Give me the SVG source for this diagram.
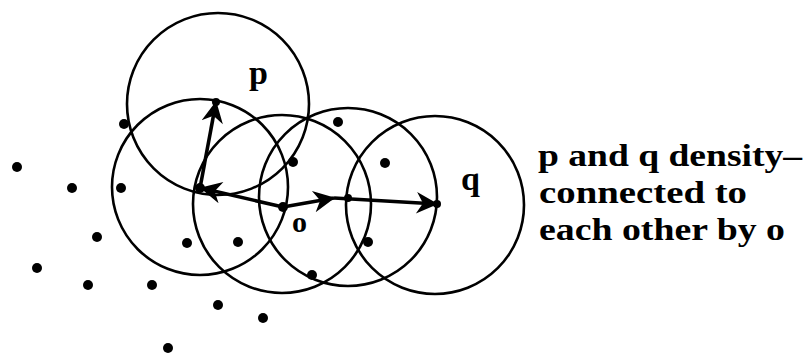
<svg xmlns="http://www.w3.org/2000/svg" width="806" height="356" viewBox="0 0 806 356">
<style>
.c{fill:none;stroke:#000;stroke-width:2.6}
.d{fill:#000}
.a{stroke:#000;stroke-width:3.6;fill:none}
.t{font-family:"Liberation Serif","DejaVu Serif",serif;fill:#000}
</style>
<defs>
<marker id="ah" viewBox="0 0 10 10" refX="9.5" refY="5" markerWidth="7.5" markerHeight="6" orient="auto" markerUnits="strokeWidth">
<path d="M0,0 L10,5 L0,10 L3,5 z" fill="#000"/>
</marker>
</defs>
<rect width="806" height="356" fill="#fff"/>
<g id="circles">
<circle id="circle-p" class="c" cx="218" cy="104" r="91"/>
<circle id="circle-a" class="c" cx="200" cy="187" r="88"/>
<circle id="circle-o" class="c" cx="282" cy="204" r="89"/>
<circle id="circle-b" class="c" cx="348" cy="197" r="89"/>
<circle id="circle-q" class="c" cx="435" cy="205" r="89"/>
</g>
<g id="points">
<circle class="d" cx="124" cy="124" r="5"/>
<circle class="d" cx="338" cy="122" r="5"/>
<circle class="d" cx="293" cy="162" r="5"/>
<circle class="d" cx="385" cy="163" r="5"/>
<circle class="d" cx="17" cy="167" r="5"/>
<circle class="d" cx="72" cy="188" r="5"/>
<circle class="d" cx="121" cy="188" r="5"/>
<circle class="d" cx="97" cy="237" r="5"/>
<circle class="d" cx="187" cy="243" r="5"/>
<circle class="d" cx="238" cy="242" r="5"/>
<circle class="d" cx="368" cy="242" r="5"/>
<circle class="d" cx="312" cy="275" r="5"/>
<circle class="d" cx="37" cy="268" r="5"/>
<circle class="d" cx="88" cy="285" r="5"/>
<circle class="d" cx="152" cy="285" r="5"/>
<circle class="d" cx="218" cy="305" r="5"/>
<circle class="d" cx="263" cy="318" r="5"/>
<circle class="d" cx="168" cy="348" r="5"/>
</g>
<g id="node-p">
<circle class="d" cx="216" cy="102" r="4"/>
<text class="t" x="249" y="84" font-size="34" font-weight="bold">p</text>
</g>
<g id="node-a">
<circle class="d" cx="200" cy="188" r="5"/>
</g>
<g id="node-o">
<circle class="d" cx="283" cy="207" r="5"/>
<text class="t" x="292" y="232" font-size="30" font-weight="bold">o</text>
</g>
<g id="node-b">
<circle class="d" cx="348" cy="198" r="4"/>
</g>
<g id="node-q">
<circle class="d" cx="437" cy="204" r="4"/>
<text class="t" x="461" y="190" font-size="34" font-weight="bold">q</text>
</g>
<g id="connectors">
<line class="a" x1="200" y1="188" x2="216" y2="102" marker-end="url(#ah)"/>
<line class="a" x1="283" y1="207" x2="201" y2="188" marker-end="url(#ah)"/>
<line class="a" x1="283" y1="207" x2="334" y2="198" marker-end="url(#ah)"/>
<line class="a" x1="334" y1="198" x2="437" y2="204" marker-end="url(#ah)"/>
</g>
<g id="caption" class="t" font-size="32" font-weight="bold">
<text x="538" y="166" textLength="264" lengthAdjust="spacingAndGlyphs">p and q density–</text>
<text x="539" y="203" textLength="208" lengthAdjust="spacingAndGlyphs">connected to</text>
<text x="539" y="240" textLength="246" lengthAdjust="spacingAndGlyphs">each other by o</text>
</g>
</svg>
